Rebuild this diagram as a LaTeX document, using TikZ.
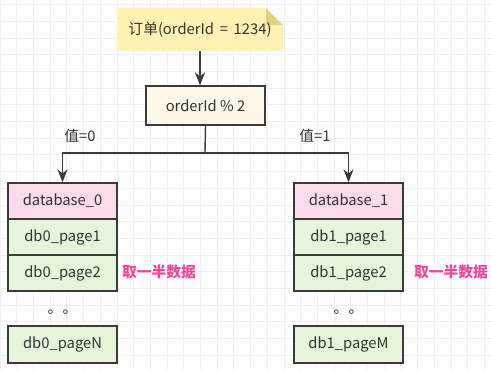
\documentclass[tikz,border=0pt]{standalone}
\usepackage{fontspec}
\setmainfont{Noto Sans CJK SC}
\usetikzlibrary{calc,arrows.meta}

\definecolor{lineC}{HTML}{3A3A3A}
\definecolor{txtC}{HTML}{333333}
\definecolor{gridC}{HTML}{F0F0F0}
\definecolor{noteC}{HTML}{FFF2B3}
\definecolor{foldC}{HTML}{E3CE84}
\definecolor{creamC}{HTML}{FDF8E8}
\definecolor{pinkC}{HTML}{FADCEB}
\definecolor{greenC}{HTML}{E6F5DA}
\definecolor{hotC}{HTML}{F0479B}

\begin{document}
\begin{tikzpicture}[x=0.02cm, y=-0.02cm, font=\fontsize{8.4}{10}\selectfont, text=txtC,
    box/.style={draw=lineC, thick, minimum width=2.18cm, minimum height=0.72cm, inner sep=0pt},
    dbbox/.style={box, fill=pinkC},
    pagebox/.style={box, fill=greenC},
    arr/.style={->, >={Stealth[length=2.6mm,width=2mm]}, thick, draw=lineC}]
    \useasboundingbox (0,0) rectangle (491,370);
    \fill[white] (0,0) rectangle (491,370);
    % canvas grid
    \foreach \gx in {0,16.7,...,491} \draw[gridC, line width=0.4pt] (\gx,0) -- (\gx,370);
    \foreach \gy in {4.5,21.2,...,370} \draw[gridC, line width=0.4pt] (0,\gy) -- (491,\gy);
    % note with folded corner
    \fill[noteC] (117,8) -- (266,8) -- (283,25) -- (283,51) -- (117,51) -- cycle;
    \fill[foldC] (266,8) -- (283,25) -- (266,25) -- cycle;
    \node[minimum width=3.32cm, minimum height=0.86cm, inner sep=0pt] (note) at (200,29.5) {订单(orderId \,=\, 1234)};
    \node[box, fill=creamC, minimum width=2.38cm, minimum height=0.78cm] (mod) at (205.5,105.5) {orderId \% 2};
    \draw[arr] (note.south) -- (note.south |- mod.north);
    % left database
    \node[dbbox] (db0) at (62.5,201) {database\_0};
    \node[pagebox] (p01) at (62.5,237) {db0\_page1};
    \node[pagebox] (p02) at (62.5,273) {db0\_page2};
    \node (dots0) at (62.5,312) {。。};
    \node[pagebox, minimum height=0.74cm] (p0n) at (62.5,344.5) {db0\_pageN};
    % right database
    \node[dbbox] (db1) at (348.5,201) {database\_1};
    \node[pagebox] (p11) at (348.5,237) {db1\_page1};
    \node[pagebox] (p12) at (348.5,273) {db1\_page2};
    \node (dots1) at (348.5,312) {。。};
    \node[pagebox, minimum height=0.74cm] (p1m) at (348.5,344.5) {db1\_pageM};
    % routing
    \coordinate (split) at (205,153);
    \draw[thick, lineC] (mod.south) -- (split);
    \draw[arr] (split) -| (db0.north);
    \draw[arr] (split) -| (db1.north);
    \node (lbl0) at (80,136) {值=0};
    \node (lbl1) at (315,136) {值=1};
    \node[text=hotC, font=\fontsize{8.4}{10}\selectfont\bfseries] (half0) at (159,272) {取一半数据};
    \node[text=hotC, font=\fontsize{8.4}{10}\selectfont\bfseries] (half1) at (451,272) {取一半数据};
\end{tikzpicture}
\end{document}
